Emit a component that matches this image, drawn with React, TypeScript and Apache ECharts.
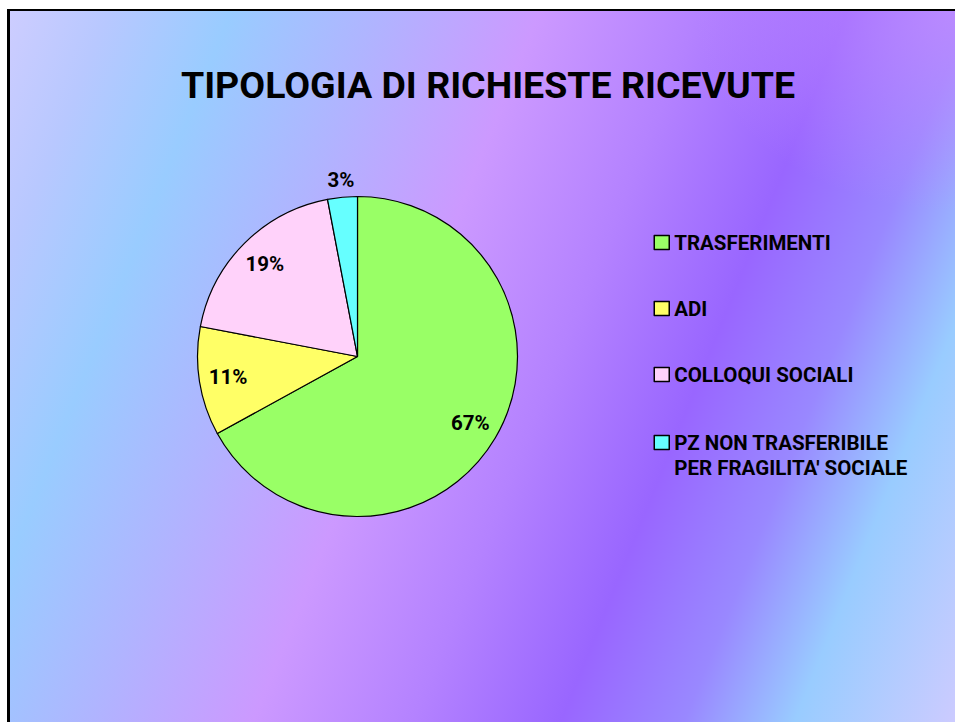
import React, { useEffect, useRef } from "react";
import * as echarts from "echarts";

const TITLE = "TIPOLOGIA DI RICHIESTE RICEVUTE";
const categories = [
  "TRASFERIMENTI",
  "ADI",
  "COLLOQUI SOCIALI",
  "PZ NON TRASFERIBILE\nPER FRAGILITA' SOCIALE",
];
const values = [67, 11, 19, 3];
const colors = ["#99FF66", "#FFFF66", "#FFD2FA", "#66FFFF"];
const labelOuter = [false, false, false, true];

const FONT = "Roboto";

export default function App() {
  const ref = useRef<HTMLDivElement>(null);
  useEffect(() => {
    if (!ref.current) return;
    const chart = echarts.init(ref.current, null, { renderer: "svg" });
    const center = [347.5, 345.5];
    const labelStyle = {
      fontFamily: FONT,
      fontWeight: "bold",
      fontSize: 20.5,
      color: "#000",
    };
    const mainData = categories.map((name, i) => ({
      name,
      value: values[i],
      itemStyle: { color: colors[i] },
    }));
    const innerLabelData = categories.map((name, i) => ({
      name,
      value: values[i],
      label: { show: !labelOuter[i] },
    }));
    const outerLabelData = categories.map((name, i) => ({
      name,
      value: values[i],
      label: { show: labelOuter[i] },
    }));
    const labelSeriesBase = {
      type: "pie",
      center,
      startAngle: 90,
      clockwise: true,
      silent: true,
      itemStyle: { color: "transparent", borderWidth: 0 },
      labelLine: { show: false },
      emphasis: { disabled: true },
    };
    chart.setOption({
      animation: false,
      backgroundColor: "transparent",
      title: {
        text: TITLE,
        left: 473,
        top: 49,
        textAlign: "center",
        textStyle: {
          fontFamily: FONT,
          fontWeight: "bold",
          fontSize: 37.5,
          lineHeight: 40,
          color: "#000",
        },
      },
      legend: [
        {
          data: categories.slice(0, 3),
          orient: "vertical",
          left: 643.5,
          top: 218.5,
          padding: 0,
          itemGap: 40,
          itemWidth: 15,
          itemHeight: 14,
          icon: "rect",
          selectedMode: false,
          itemStyle: { borderColor: "#000", borderWidth: 1.5 },
          textStyle: { ...labelStyle, lineHeight: 26 },
        },
        {
          data: categories.slice(3),
          orient: "vertical",
          left: 643.5,
          top: 394,
          padding: 0,
          itemWidth: 15,
          itemHeight: 14,
          icon: "rect",
          selectedMode: false,
          formatter: (name: string) => " \n" + name,
          itemStyle: { borderColor: "#000", borderWidth: 1.5 },
          textStyle: { ...labelStyle, lineHeight: 25 },
        },
      ],
      series: [
        {
          name: "main",
          type: "pie",
          center,
          radius: 160,
          startAngle: 90,
          clockwise: true,
          data: mainData,
          label: { show: false },
          labelLine: { show: false },
          itemStyle: { borderColor: "#000", borderWidth: 1.2 },
          emphasis: { disabled: true },
        },
        {
          ...labelSeriesBase,
          name: "innerLabels",
          radius: [96, 160],
          data: innerLabelData,
          label: { position: "inside", formatter: "{c}%", ...labelStyle },
        },
        {
          ...labelSeriesBase,
          name: "outerLabels",
          radius: [164, 184],
          data: outerLabelData,
          label: { position: "inside", formatter: "{c}%", ...labelStyle },
        },
      ],
    });
    return () => chart.dispose();
  }, []);

  return (
    <div
      style={{
        position: "fixed",
        left: 0,
        top: 0,
        width: 955,
        height: 722,
        background: "#fff",
        overflow: "hidden",
      }}
    >
      <div
        style={{
          position: "absolute",
          left: 7,
          top: 9,
          width: 948,
          height: 713,
          borderLeft: "3px solid #000",
          borderTop: "2px solid #000",
          boxSizing: "border-box",
        }}
      >
        <div
          ref={ref}
          style={{
            width: 945,
            height: 711,
            background:
              "radial-gradient(ellipse 260px 200px at 100% 0%, rgba(196,140,255,0.75), rgba(196,140,255,0) 100%), linear-gradient(112deg, #cdcdff 0%, #b8c8ff 8%, #99ccff 18%, #b0b4ff 30%, #cc99ff 43%, #b482ff 56%, #9966ff 68%, #9988ff 78%, #99ccff 87%, #cccbff 100%)",
          }}
        />
      </div>
    </div>
  );
}
